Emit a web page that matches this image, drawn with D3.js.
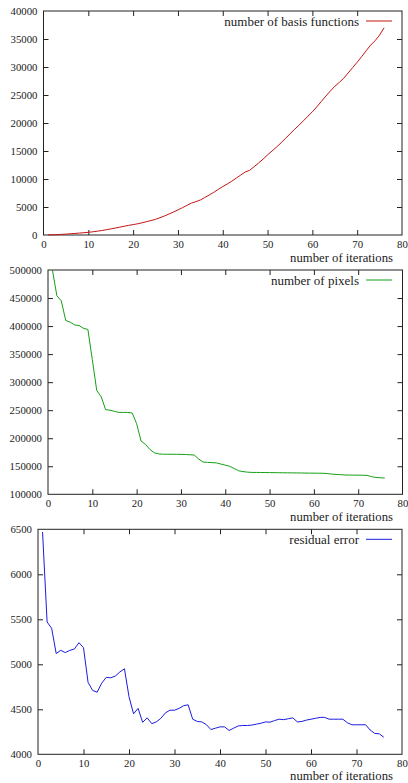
<!DOCTYPE html>
<html>
<head>
<meta charset="utf-8">
<script src="https://cdn.jsdelivr.net/npm/d3@7"></script>
<style>
  body { margin: 0; background: #fff; }
  svg text { font-family: "Liberation Serif", "Times New Roman", serif; fill: #222; }
</style>
</head>
<body>
<script>
// iterations 1..76
var iterations = d3.range(1, 77);

var basisFunctions = [
  20, 40, 70, 110, 160, 220, 280, 340, 410, 480,
  570, 680, 800, 940, 1090, 1240, 1400, 1560, 1720, 1860,
  2000, 2180, 2380, 2580, 2800, 3090, 3400, 3750, 4100, 4480,
  4880, 5280, 5700, 5950, 6250, 6700, 7150, 7620, 8150, 8650,
  9100, 9600, 10150, 10700, 11250, 11550, 12200, 12850, 13550, 14300,
  15000, 15700, 16450, 17250, 18050, 18850, 19600, 20400, 21200, 22000,
  22900, 23850, 24800, 25700, 26550, 27250, 28000, 28950, 29900, 30850,
  31850, 32900, 33900, 34700, 35700, 37000
];

var numPixels = [
  500000, 454000, 445000, 410000, 407000, 402000, 401000, 396000, 394000, 340000,
  285000, 274000, 251000, 250000, 248000, 246000, 246000, 246000, 245000, 226000,
  195000, 189000, 180000, 174000, 172000, 171500, 171500, 171400, 171300, 171200,
  171000, 170500, 170000, 163000, 157500, 157000, 156500, 156000, 154000, 152000,
  150000, 146000, 142000, 140500, 139500, 139000, 139000, 138900, 138800, 138700,
  138600, 138500, 138400, 138300, 138200, 138100, 138000, 137900, 137800, 137700,
  137600, 137500, 137000, 136000, 135500, 135000, 134500, 134300, 134200, 134100,
  134000, 133800, 131500, 130000, 129500, 129000
];

var residualError = [
  6470, 5470, 5400, 5120, 5155, 5130, 5155, 5170, 5240, 5185,
  4800, 4710, 4690, 4790, 4855, 4850, 4870, 4915, 4950, 4640,
  4450, 4510, 4355, 4405, 4340, 4360, 4400, 4460, 4490, 4490,
  4510, 4540, 4550, 4390, 4365, 4360, 4330, 4275, 4290, 4305,
  4305, 4265, 4290, 4315, 4320, 4320, 4325, 4335, 4345, 4360,
  4357, 4375, 4390, 4385, 4395, 4405, 4360, 4365, 4380, 4390,
  4400, 4410, 4410, 4390, 4390, 4390, 4390, 4350, 4328, 4328,
  4328, 4328, 4270, 4232, 4228, 4190
];

var xTicks = [0, 10, 20, 30, 40, 50, 60, 70, 80];
var yTicks1 = d3.range(0, 40001, 5000);
var yTicks2 = d3.range(100000, 500001, 50000);
var yTicks3 = d3.range(4000, 6501, 500);

var W = 408, H = 783;
var svg = d3.select("body").append("svg")
  .attr("width", W)
  .attr("height", H);

var panels = [
  { values: basisFunctions, yTicks: yTicks1, yDomain: [0, 40000], label: "number of basis functions",
    color: "#c41414", left: 43.5, right: 402, top: 11, bottom: 235 },
  { values: numPixels, yTicks: yTicks2, yDomain: [100000, 500000], label: "number of pixels",
    color: "#14a014", left: 48, right: 402.5, top: 270, bottom: 494.3 },
  { values: residualError, yTicks: yTicks3, yDomain: [4000, 6500], label: "residual error",
    color: "#1c1ce0", left: 38, right: 402, top: 529.3, bottom: 754.3 }
];

panels.forEach(drawPanel);

function drawPanel(p) {
  var x = d3.scaleLinear().domain([0, 80]).range([p.left, p.right]);
  var y = d3.scaleLinear().domain(p.yDomain).range([p.bottom, p.top]);
  var g = svg.append("g");

  // bottom axis, ticks pointing in
  var bx = g.append("g")
    .attr("transform", "translate(0," + p.bottom + ")")
    .call(d3.axisBottom(x).tickValues(xTicks).tickSize(-5).tickPadding(5).tickSizeOuter(0));
  // top mirror ticks
  var tx = g.append("g")
    .attr("transform", "translate(0," + p.top + ")")
    .call(d3.axisTop(x).tickValues(xTicks.slice(1, -1)).tickSize(-5).tickFormat("").tickSizeOuter(0));
  // left axis
  var ly = g.append("g")
    .attr("transform", "translate(" + p.left + ",0)")
    .call(d3.axisLeft(y).tickValues(p.yTicks).tickSize(-5).tickPadding(6).tickFormat(d3.format("d")).tickSizeOuter(0));
  // right mirror ticks
  var ry = g.append("g")
    .attr("transform", "translate(" + p.right + ",0)")
    .call(d3.axisRight(y).tickValues(p.yTicks.slice(1, -1)).tickSize(-5).tickFormat("").tickSizeOuter(0));

  [bx, tx, ly, ry].forEach(function (a) {
    a.select(".domain").remove();
    a.selectAll("line").attr("stroke", "#222");
    a.selectAll("text").style("font-size", "10.8px").attr("fill", "#222")
      .style("font-family", "'Liberation Serif', serif");
  });
  bx.selectAll(".tick line").filter(function (d) { return d === 0 || d === 80; }).remove();
  ly.selectAll(".tick line").filter(function (d, i) { return i === 0 || i === p.yTicks.length - 1; }).remove();

  g.append("rect")
    .attr("x", p.left).attr("y", p.top)
    .attr("width", p.right - p.left).attr("height", p.bottom - p.top)
    .attr("fill", "none").attr("stroke", "#222").attr("stroke-width", 1);

  var line = d3.line()
    .x(function (d, i) { return x(iterations[i]); })
    .y(function (d) { return y(d); });

  g.append("path")
    .datum(p.values)
    .attr("d", line)
    .attr("fill", "none")
    .attr("stroke", p.color)
    .attr("stroke-width", 1);

  // legend
  g.append("text")
    .attr("x", 359).attr("y", p.top + 15)
    .attr("text-anchor", "end")
    .style("font-size", "13px")
    .text(p.label);
  g.append("line")
    .attr("x1", 366).attr("x2", 392)
    .attr("y1", p.top + 10).attr("y2", p.top + 10)
    .attr("stroke", p.color).attr("stroke-width", 1);

  // x axis title
  g.append("text")
    .attr("x", 393).attr("y", Math.min(p.bottom + 27, 779.5))
    .attr("text-anchor", "end")
    .style("font-size", "12.7px")
    .text("number of iterations");
}
</script>
</body>
</html>
